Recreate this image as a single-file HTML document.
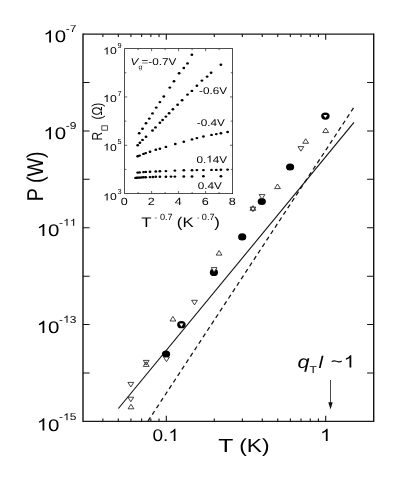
<!DOCTYPE html>
<html><head><meta charset="utf-8"><title>P vs T</title>
<style>html,body{margin:0;padding:0;background:#fff}svg text{white-space:pre;text-rendering:geometricPrecision;font-family:"Liberation Sans",sans-serif}</style></head>
<body>
<svg width="415" height="485" viewBox="0 0 415 485" style="display:block;will-change:transform">
<rect width="415" height="485" fill="#fff"/>
<path d="M83.0 82.51h6.6M373.7 82.51h-6.6M83.0 130.92h6.6M373.7 130.92h-6.6M83.0 179.34h6.6M373.7 179.34h-6.6M83.0 227.75h6.6M373.7 227.75h-6.6M83.0 276.16h6.6M373.7 276.16h-6.6M83.0 324.57h6.6M373.7 324.57h-6.6M83.0 372.99h6.6M373.7 372.99h-6.6" stroke="#111" stroke-width="1.05" fill="none"/>
<path d="M102.87 421.4v-3.0M102.87 34.1v3.0M118.32 421.4v-3.0M118.32 34.1v3.0M130.94 421.4v-3.0M130.94 34.1v3.0M141.61 421.4v-3.0M141.61 34.1v3.0M150.85 421.4v-3.0M150.85 34.1v3.0M159.01 421.4v-3.0M159.01 34.1v3.0M214.28 421.4v-3.0M214.28 34.1v3.0M242.35 421.4v-3.0M242.35 34.1v3.0M262.27 421.4v-3.0M262.27 34.1v3.0M277.72 421.4v-3.0M277.72 34.1v3.0M290.34 421.4v-3.0M290.34 34.1v3.0M301.01 421.4v-3.0M301.01 34.1v3.0M310.25 421.4v-3.0M310.25 34.1v3.0M318.41 421.4v-3.0M318.41 34.1v3.0M166.30 421.4v-5.6M166.30 34.1v5.6M325.70 421.4v-5.6M325.70 34.1v5.6" stroke="#111" stroke-width="1.1" fill="none"/>
<text transform="translate(65.73,32.20) scale(1.2,1)" font-size="10" text-anchor="start" fill="#000" >-7</text>
<path transform="translate(43.39,42.40) scale(0.00998,-0.00825)" d="M763 0H583V1147Q518 1085 412.5 1023T223 930V1104Q373 1174.5 485.5 1275T645 1470H763Z" fill="#000"/>
<text transform="translate(54.76,42.40) scale(1.21,1)" font-size="16.9" text-anchor="start" fill="#000" >0</text>
<text transform="translate(65.73,129.03) scale(1.2,1)" font-size="10" text-anchor="start" fill="#000" >-9</text>
<path transform="translate(43.39,139.22) scale(0.00998,-0.00825)" d="M763 0H583V1147Q518 1085 412.5 1023T223 930V1104Q373 1174.5 485.5 1275T645 1470H763Z" fill="#000"/>
<text transform="translate(54.76,139.22) scale(1.21,1)" font-size="16.9" text-anchor="start" fill="#000" >0</text>
<text transform="translate(59.06,225.85) scale(1.2,1)" font-size="10" text-anchor="start" fill="#000" >-</text>
<path transform="translate(63.06,225.85) scale(0.00586,-0.00488)" d="M763 0H583V1147Q518 1085 412.5 1023T223 930V1104Q373 1174.5 485.5 1275T645 1470H763Z" fill="#000"/>
<path transform="translate(69.73,225.85) scale(0.00586,-0.00488)" d="M763 0H583V1147Q518 1085 412.5 1023T223 930V1104Q373 1174.5 485.5 1275T645 1470H763Z" fill="#000"/>
<path transform="translate(36.72,236.05) scale(0.00998,-0.00825)" d="M763 0H583V1147Q518 1085 412.5 1023T223 930V1104Q373 1174.5 485.5 1275T645 1470H763Z" fill="#000"/>
<text transform="translate(48.09,236.05) scale(1.21,1)" font-size="16.9" text-anchor="start" fill="#000" >0</text>
<text transform="translate(59.06,322.68) scale(1.2,1)" font-size="10" text-anchor="start" fill="#000" >-</text>
<path transform="translate(63.06,322.68) scale(0.00586,-0.00488)" d="M763 0H583V1147Q518 1085 412.5 1023T223 930V1104Q373 1174.5 485.5 1275T645 1470H763Z" fill="#000"/>
<text transform="translate(69.73,322.68) scale(1.2,1)" font-size="10" text-anchor="start" fill="#000" >3</text>
<path transform="translate(36.72,332.88) scale(0.00998,-0.00825)" d="M763 0H583V1147Q518 1085 412.5 1023T223 930V1104Q373 1174.5 485.5 1275T645 1470H763Z" fill="#000"/>
<text transform="translate(48.09,332.88) scale(1.21,1)" font-size="16.9" text-anchor="start" fill="#000" >0</text>
<text transform="translate(59.06,420.30) scale(1.2,1)" font-size="10" text-anchor="start" fill="#000" >-</text>
<path transform="translate(63.06,420.30) scale(0.00586,-0.00488)" d="M763 0H583V1147Q518 1085 412.5 1023T223 930V1104Q373 1174.5 485.5 1275T645 1470H763Z" fill="#000"/>
<text transform="translate(69.73,420.30) scale(1.2,1)" font-size="10" text-anchor="start" fill="#000" >5</text>
<path transform="translate(36.72,430.50) scale(0.00998,-0.00825)" d="M763 0H583V1147Q518 1085 412.5 1023T223 930V1104Q373 1174.5 485.5 1275T645 1470H763Z" fill="#000"/>
<text transform="translate(48.09,430.50) scale(1.21,1)" font-size="16.9" text-anchor="start" fill="#000" >0</text>
<text transform="translate(152.47,441.00) scale(1.12,1)" font-size="17" text-anchor="start" fill="#000" >0.</text>
<path transform="translate(168.35,441.00) scale(0.00930,-0.00830)" d="M763 0H583V1147Q518 1085 412.5 1023T223 930V1104Q373 1174.5 485.5 1275T645 1470H763Z" fill="#000"/>
<path transform="translate(320.03,441.00) scale(0.00996,-0.00830)" d="M763 0H583V1147Q518 1085 412.5 1023T223 930V1104Q373 1174.5 485.5 1275T645 1470H763Z" fill="#000"/>
<text transform="translate(218.30,452.30) scale(1.3,1)" font-size="19" text-anchor="start" fill="#000" >T</text>
<text transform="translate(232.80,452.30) scale(1.2,1)" font-size="19" text-anchor="start" fill="#000" > (K)</text>
<text transform="translate(43.3,176.3) scale(1.16,1) rotate(-90)" font-size="19.7" text-anchor="middle" fill="#000">P (W)</text>
<path d="M118.4 408.5L354 122.4" stroke="#111" stroke-width="1.15" fill="none"/>
<path d="M148.0 421.05L353.9 107.3" stroke="#111" stroke-width="1.25" stroke-dasharray="4.3 3.415" fill="none"/>
<path d="M83.0 33.550000000000004V421.95M373.7 33.550000000000004V421.95" stroke="#111" stroke-width="1.4" fill="none"/>
<path d="M83.0 34.1H373.7M83.0 421.4H373.7" stroke="#1a1a1a" stroke-width="1.15" fill="none"/>
<ellipse cx="166.05" cy="354.0" rx="4.1" ry="3.6" fill="#000"/>
<ellipse cx="213.9" cy="272.4" rx="4.1" ry="3.6" fill="#000"/>
<ellipse cx="242.2" cy="236.9" rx="4.1" ry="3.6" fill="#000"/>
<ellipse cx="261.8" cy="201.5" rx="4.1" ry="3.6" fill="#000"/>
<ellipse cx="290.1" cy="167.0" rx="4.1" ry="3.6" fill="#000"/>
<ellipse cx="181.4" cy="324.7" rx="4.25" ry="3.65" fill="#000"/>
<path d="M179.40 323.50L183.40 323.50L181.40 326.70Z" fill="#fff"/>
<ellipse cx="325.4" cy="116.1" rx="4.25" ry="3.65" fill="#000"/>
<path d="M323.40 114.90L327.40 114.90L325.40 118.10Z" fill="#fff"/>
<path d="M127.90 382.40L133.70 382.40L130.80 387.00Z" fill="none" stroke="#151515" stroke-width="0.8"/>
<path d="M127.90 397.20L133.70 397.20L130.80 401.80Z" fill="none" stroke="#151515" stroke-width="0.8"/>
<path d="M143.30 360.40L149.10 360.40L146.20 365.00Z" fill="none" stroke="#151515" stroke-width="0.8"/>
<path d="M163.60 357.10L169.40 357.10L166.50 361.70Z" fill="#fff" stroke="#151515" stroke-width="0.8"/>
<path d="M191.60 300.30L197.40 300.30L194.50 304.90Z" fill="none" stroke="#151515" stroke-width="0.8"/>
<path d="M211.20 267.60L217.00 267.60L214.10 272.20Z" fill="#fff" stroke="#151515" stroke-width="0.8"/>
<path d="M250.00 207.10L255.80 207.10L252.90 211.70Z" fill="none" stroke="#151515" stroke-width="0.8"/>
<path d="M259.10 194.60L264.90 194.60L262.00 199.20Z" fill="#fff" stroke="#151515" stroke-width="0.8"/>
<path d="M298.00 146.60L303.80 146.60L300.90 151.20Z" fill="none" stroke="#151515" stroke-width="0.8"/>
<path d="M128.10 408.80L133.90 408.80L131.00 404.20Z" fill="none" stroke="#151515" stroke-width="0.8"/>
<path d="M143.30 366.40L149.10 366.40L146.20 361.80Z" fill="none" stroke="#151515" stroke-width="0.8"/>
<path d="M170.00 321.00L175.80 321.00L172.90 316.40Z" fill="none" stroke="#151515" stroke-width="0.8"/>
<path d="M216.20 255.10L222.00 255.10L219.10 250.50Z" fill="none" stroke="#151515" stroke-width="0.8"/>
<path d="M250.00 210.30L255.80 210.30L252.90 205.70Z" fill="none" stroke="#151515" stroke-width="0.8"/>
<path d="M274.60 188.60L280.40 188.60L277.50 184.00Z" fill="none" stroke="#151515" stroke-width="0.8"/>
<path d="M302.80 143.30L308.60 143.30L305.70 138.70Z" fill="none" stroke="#151515" stroke-width="0.8"/>
<path d="M322.80 132.60L328.60 132.60L325.70 128.00Z" fill="none" stroke="#151515" stroke-width="0.8"/>
<text transform="translate(297.60,367.50) scale(1.2,1)" font-size="18" text-anchor="start" fill="#000" font-style="italic">q</text>
<text transform="translate(309.40,372.90) scale(1.2,1)" font-size="10" text-anchor="start" fill="#000" >T</text>
<text transform="translate(318.60,367.50) scale(1.2,1)" font-size="17" text-anchor="start" fill="#000" font-style="italic">l</text>
<text transform="translate(330.80,366.60) scale(1.2,1)" font-size="17" text-anchor="start" fill="#000" >~</text>
<path transform="translate(343.70,367.50) scale(0.00996,-0.00830)" d="M763 0H583V1147Q518 1085 412.5 1023T223 930V1104Q373 1174.5 485.5 1275T645 1470H763Z" fill="#000"/>
<path d="M330.5 380V403" stroke="#333" stroke-width="0.9" fill="none"/>
<path d="M328.3 402.2L332.7 402.2L330.5 409.6Z" fill="#111"/>
<rect x="124.6" y="48.6" width="108.00" height="145.00" fill="#fff" stroke="#222" stroke-width="0.8"/>
<path d="M138.10 193.6v-1.6M138.10 48.6v1.6M151.60 193.6v-2.6M151.60 48.6v2.6M165.10 193.6v-1.6M165.10 48.6v1.6M178.60 193.6v-2.6M178.60 48.6v2.6M192.10 193.6v-1.6M192.10 48.6v1.6M205.60 193.6v-2.6M205.60 48.6v2.6M219.10 193.6v-1.6M219.10 48.6v1.6M124.6 72.77h1.8M232.6 72.77h-1.8M124.6 96.93h2.6M232.6 96.93h-2.6M124.6 121.10h1.8M232.6 121.10h-1.8M124.6 145.27h2.6M232.6 145.27h-2.6M124.6 169.43h1.8M232.6 169.43h-1.8" stroke="#222" stroke-width="0.7" fill="none"/>
<path transform="translate(103.10,54.40) scale(0.00596,-0.00488)" d="M763 0H583V1147Q518 1085 412.5 1023T223 930V1104Q373 1174.5 485.5 1275T645 1470H763Z" fill="#000"/>
<text transform="translate(109.88,54.40) scale(1.22,1)" font-size="10" text-anchor="start" fill="#000" >0</text>
<text transform="translate(117.60,47.90) scale(1.0,1)" font-size="7.3" text-anchor="start" fill="#000" >9</text>
<path transform="translate(103.10,102.00) scale(0.00596,-0.00488)" d="M763 0H583V1147Q518 1085 412.5 1023T223 930V1104Q373 1174.5 485.5 1275T645 1470H763Z" fill="#000"/>
<text transform="translate(109.88,102.00) scale(1.22,1)" font-size="10" text-anchor="start" fill="#000" >0</text>
<text transform="translate(117.60,95.50) scale(1.0,1)" font-size="7.3" text-anchor="start" fill="#000" >7</text>
<path transform="translate(103.10,150.60) scale(0.00596,-0.00488)" d="M763 0H583V1147Q518 1085 412.5 1023T223 930V1104Q373 1174.5 485.5 1275T645 1470H763Z" fill="#000"/>
<text transform="translate(109.88,150.60) scale(1.22,1)" font-size="10" text-anchor="start" fill="#000" >0</text>
<text transform="translate(117.60,144.10) scale(1.0,1)" font-size="7.3" text-anchor="start" fill="#000" >5</text>
<path transform="translate(103.10,200.40) scale(0.00596,-0.00488)" d="M763 0H583V1147Q518 1085 412.5 1023T223 930V1104Q373 1174.5 485.5 1275T645 1470H763Z" fill="#000"/>
<text transform="translate(109.88,200.40) scale(1.22,1)" font-size="10" text-anchor="start" fill="#000" >0</text>
<text transform="translate(117.60,193.90) scale(1.0,1)" font-size="7.3" text-anchor="start" fill="#000" >3</text>
<text transform="translate(124.20,205.30) scale(1.2,1)" font-size="10.5" text-anchor="middle" fill="#000" >0</text>
<text transform="translate(151.20,205.30) scale(1.2,1)" font-size="10.5" text-anchor="middle" fill="#000" >2</text>
<text transform="translate(178.20,205.30) scale(1.2,1)" font-size="10.5" text-anchor="middle" fill="#000" >4</text>
<text transform="translate(205.20,205.30) scale(1.2,1)" font-size="10.5" text-anchor="middle" fill="#000" >6</text>
<text transform="translate(232.20,205.30) scale(1.2,1)" font-size="10.5" text-anchor="middle" fill="#000" >8</text>
<text transform="translate(141.30,226.60) scale(1.2,1)" font-size="14" text-anchor="start" fill="#000" >T</text>
<text transform="translate(154.50,220.00) scale(1.0,1)" font-size="7.5" text-anchor="start" fill="#111" >-</text>
<text transform="translate(159.90,220.30) scale(1.02,1)" font-size="9" text-anchor="start" fill="#000" >0.7</text>
<text transform="translate(176.80,226.60) scale(1.2,1)" font-size="14" text-anchor="start" fill="#000" >(K</text>
<text transform="translate(197.00,220.00) scale(1.0,1)" font-size="7.5" text-anchor="start" fill="#111" >-</text>
<text transform="translate(201.80,220.30) scale(1.02,1)" font-size="9" text-anchor="start" fill="#000" >0.7</text>
<text transform="translate(214.20,226.60) scale(1.2,1)" font-size="14" text-anchor="start" fill="#000" >)</text>
<text transform="translate(101.6,140.6) scale(1.2,1) rotate(-90)" font-size="12" fill="#000">R</text>
<rect x="101.8" y="125.8" width="5.6" height="4.4" fill="none" stroke="#222" stroke-width="0.8"/>
<text transform="translate(101.6,119.6) scale(1.2,1) rotate(-90)" font-size="12" fill="#000">(Ω)</text>
<text transform="translate(130.60,65.40) scale(1.195,1)" font-size="9.8" text-anchor="start" fill="#000" font-style="italic">V</text>
<text transform="translate(138.50,68.60) scale(1.1,1)" font-size="6.2" text-anchor="start" fill="#222" >g</text>
<text transform="translate(141.50,65.40) scale(1.195,1)" font-size="9.8" text-anchor="start" fill="#000" >=-0.7V</text>
<text transform="translate(199.00,94.20) scale(1.195,1)" font-size="9.8" text-anchor="start" fill="#000" >-0.6V</text>
<text transform="translate(196.80,126.20) scale(1.195,1)" font-size="9.8" text-anchor="start" fill="#000" >-0.4V</text>
<text transform="translate(196.40,162.50) scale(1.195,1)" font-size="9.8" text-anchor="start" fill="#000" >0.</text>
<path transform="translate(206.17,162.50) scale(0.00572,-0.00479)" d="M763 0H583V1147Q518 1085 412.5 1023T223 930V1104Q373 1174.5 485.5 1275T645 1470H763Z" fill="#000"/>
<text transform="translate(212.68,162.50) scale(1.195,1)" font-size="9.8" text-anchor="start" fill="#000" >4V</text>
<text transform="translate(197.80,189.30) scale(1.195,1)" font-size="9.8" text-anchor="start" fill="#000" >0.4V</text>
<ellipse cx="139.2" cy="133.3" rx="1.4" ry="1.2" fill="#000"/>
<ellipse cx="142.5" cy="128.7" rx="1.4" ry="1.2" fill="#000"/>
<ellipse cx="146.0" cy="123.3" rx="1.4" ry="1.2" fill="#000"/>
<ellipse cx="149.3" cy="118.6" rx="1.4" ry="1.2" fill="#000"/>
<ellipse cx="152.5" cy="113.4" rx="1.4" ry="1.2" fill="#000"/>
<ellipse cx="156.2" cy="107.6" rx="1.4" ry="1.2" fill="#000"/>
<ellipse cx="159.9" cy="102.1" rx="1.4" ry="1.2" fill="#000"/>
<ellipse cx="163.8" cy="96.5" rx="1.4" ry="1.2" fill="#000"/>
<ellipse cx="169.8" cy="87.6" rx="1.4" ry="1.2" fill="#000"/>
<ellipse cx="174.0" cy="81.3" rx="1.4" ry="1.2" fill="#000"/>
<ellipse cx="179.1" cy="73.3" rx="1.4" ry="1.2" fill="#000"/>
<ellipse cx="183.8" cy="68.0" rx="1.4" ry="1.2" fill="#000"/>
<ellipse cx="187.5" cy="63.4" rx="1.4" ry="1.2" fill="#000"/>
<ellipse cx="191.9" cy="54.7" rx="1.4" ry="1.2" fill="#000"/>
<ellipse cx="137.7" cy="145.2" rx="1.4" ry="1.2" fill="#000"/>
<ellipse cx="139.9" cy="142.7" rx="1.4" ry="1.2" fill="#000"/>
<ellipse cx="142.5" cy="139.9" rx="1.4" ry="1.2" fill="#000"/>
<ellipse cx="146.0" cy="136.7" rx="1.4" ry="1.2" fill="#000"/>
<ellipse cx="152.5" cy="130.5" rx="1.4" ry="1.2" fill="#000"/>
<ellipse cx="155.5" cy="127.4" rx="1.4" ry="1.2" fill="#000"/>
<ellipse cx="159.9" cy="122.8" rx="1.4" ry="1.2" fill="#000"/>
<ellipse cx="162.6" cy="120.0" rx="1.4" ry="1.2" fill="#000"/>
<ellipse cx="165.9" cy="116.6" rx="1.4" ry="1.2" fill="#000"/>
<ellipse cx="169.1" cy="113.2" rx="1.4" ry="1.2" fill="#000"/>
<ellipse cx="172.9" cy="109.3" rx="1.4" ry="1.2" fill="#000"/>
<ellipse cx="177.6" cy="104.7" rx="1.4" ry="1.2" fill="#000"/>
<ellipse cx="182.1" cy="100.2" rx="1.4" ry="1.2" fill="#000"/>
<ellipse cx="187.5" cy="94.6" rx="1.4" ry="1.2" fill="#000"/>
<ellipse cx="191.9" cy="90.9" rx="1.4" ry="1.2" fill="#000"/>
<ellipse cx="196.9" cy="85.8" rx="1.4" ry="1.2" fill="#000"/>
<ellipse cx="201.9" cy="80.6" rx="1.4" ry="1.2" fill="#000"/>
<ellipse cx="207.1" cy="76.6" rx="1.4" ry="1.2" fill="#000"/>
<ellipse cx="211.1" cy="72.8" rx="1.4" ry="1.2" fill="#000"/>
<ellipse cx="220.9" cy="64.7" rx="1.4" ry="1.2" fill="#000"/>
<ellipse cx="137.7" cy="156.3" rx="1.4" ry="1.2" fill="#000"/>
<ellipse cx="139.6" cy="155.6" rx="1.4" ry="1.2" fill="#000"/>
<ellipse cx="143.5" cy="153.9" rx="1.4" ry="1.2" fill="#000"/>
<ellipse cx="145.7" cy="153.1" rx="1.4" ry="1.2" fill="#000"/>
<ellipse cx="150.0" cy="151.7" rx="1.4" ry="1.2" fill="#000"/>
<ellipse cx="155.8" cy="149.8" rx="1.4" ry="1.2" fill="#000"/>
<ellipse cx="159.9" cy="148.8" rx="1.4" ry="1.2" fill="#000"/>
<ellipse cx="165.9" cy="146.9" rx="1.4" ry="1.2" fill="#000"/>
<ellipse cx="175.3" cy="144.0" rx="1.4" ry="1.2" fill="#000"/>
<ellipse cx="183.8" cy="141.7" rx="1.4" ry="1.2" fill="#000"/>
<ellipse cx="192.0" cy="139.4" rx="1.4" ry="1.2" fill="#000"/>
<ellipse cx="196.9" cy="138.1" rx="1.4" ry="1.2" fill="#000"/>
<ellipse cx="203.4" cy="136.5" rx="1.4" ry="1.2" fill="#000"/>
<ellipse cx="211.5" cy="134.9" rx="1.4" ry="1.2" fill="#000"/>
<ellipse cx="216.3" cy="134.1" rx="1.4" ry="1.2" fill="#000"/>
<ellipse cx="220.9" cy="133.2" rx="1.4" ry="1.2" fill="#000"/>
<ellipse cx="227.6" cy="132.0" rx="1.4" ry="1.2" fill="#000"/>
<ellipse cx="137.7" cy="172.6" rx="1.4" ry="1.2" fill="#000"/>
<ellipse cx="139.6" cy="172.4" rx="1.4" ry="1.2" fill="#000"/>
<ellipse cx="143.5" cy="172.1" rx="1.4" ry="1.2" fill="#000"/>
<ellipse cx="145.7" cy="171.9" rx="1.4" ry="1.2" fill="#000"/>
<ellipse cx="150" cy="171.8" rx="1.4" ry="1.2" fill="#000"/>
<ellipse cx="155.8" cy="171.5" rx="1.4" ry="1.2" fill="#000"/>
<ellipse cx="159.9" cy="171.3" rx="1.4" ry="1.2" fill="#000"/>
<ellipse cx="165.9" cy="171.1" rx="1.4" ry="1.2" fill="#000"/>
<ellipse cx="174.9" cy="170.6" rx="1.4" ry="1.2" fill="#000"/>
<ellipse cx="183.8" cy="170.3" rx="1.4" ry="1.2" fill="#000"/>
<ellipse cx="192.0" cy="170.2" rx="1.4" ry="1.2" fill="#000"/>
<ellipse cx="196.9" cy="170.1" rx="1.4" ry="1.2" fill="#000"/>
<ellipse cx="203.4" cy="170.1" rx="1.4" ry="1.2" fill="#000"/>
<ellipse cx="211.5" cy="169.9" rx="1.4" ry="1.2" fill="#000"/>
<ellipse cx="216.3" cy="169.9" rx="1.4" ry="1.2" fill="#000"/>
<ellipse cx="220.9" cy="169.8" rx="1.4" ry="1.2" fill="#000"/>
<ellipse cx="227.6" cy="169.6" rx="1.4" ry="1.2" fill="#000"/>
<ellipse cx="135.6" cy="177.9" rx="1.4" ry="1.2" fill="#000"/>
<ellipse cx="137" cy="177.7" rx="1.4" ry="1.2" fill="#000"/>
<ellipse cx="138.5" cy="177.6" rx="1.4" ry="1.2" fill="#000"/>
<ellipse cx="139.9" cy="177.6" rx="1.4" ry="1.2" fill="#000"/>
<ellipse cx="141.6" cy="177.4" rx="1.4" ry="1.2" fill="#000"/>
<ellipse cx="143.5" cy="177.3" rx="1.4" ry="1.2" fill="#000"/>
<ellipse cx="145.7" cy="177.3" rx="1.4" ry="1.2" fill="#000"/>
<ellipse cx="150" cy="177.1" rx="1.4" ry="1.2" fill="#000"/>
<ellipse cx="152.9" cy="177" rx="1.4" ry="1.2" fill="#000"/>
<ellipse cx="155.8" cy="176.8" rx="1.4" ry="1.2" fill="#000"/>
<ellipse cx="159.9" cy="176.8" rx="1.4" ry="1.2" fill="#000"/>
<ellipse cx="165.9" cy="176.7" rx="1.4" ry="1.2" fill="#000"/>
<ellipse cx="171" cy="176.6" rx="1.4" ry="1.2" fill="#000"/>
<ellipse cx="174.9" cy="176.6" rx="1.4" ry="1.2" fill="#000"/>
<ellipse cx="183.8" cy="176.5" rx="1.4" ry="1.2" fill="#000"/>
<ellipse cx="192.0" cy="176.5" rx="1.4" ry="1.2" fill="#000"/>
<ellipse cx="203.4" cy="176.3" rx="1.4" ry="1.2" fill="#000"/>
<ellipse cx="220.9" cy="176.2" rx="1.4" ry="1.2" fill="#000"/>
</svg>
</body></html>
